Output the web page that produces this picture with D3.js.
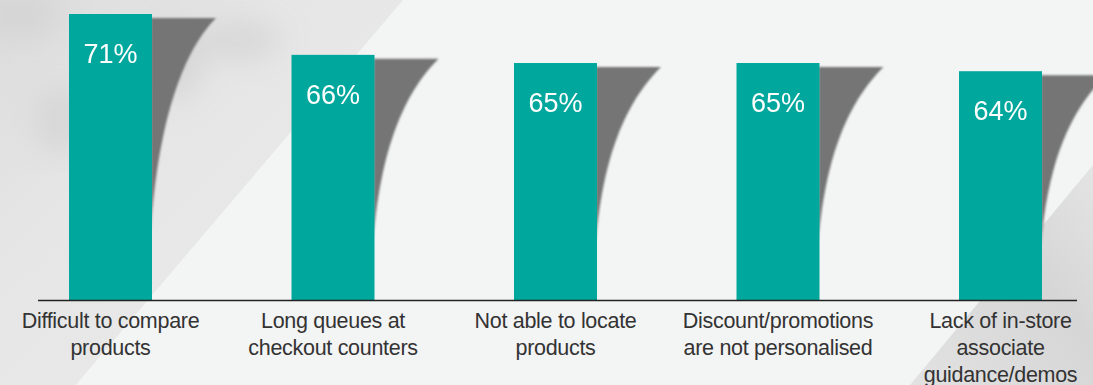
<!DOCTYPE html>
<html lang="en">
<head>
    <meta charset="UTF-8">
    <title>In-store pain points</title>
    <script src="https://cdn.jsdelivr.net/npm/d3@7"></script>
    <style>
        body{ margin:0; background:#f3f4f4; }
        .cat{
            font-family: "Liberation Sans", Arial, sans-serif;
            font-size: 21.5px;
            fill: #333;
            letter-spacing: -0.3px;
        }
        .val{
            font-family: "Liberation Sans", Arial, sans-serif;
            font-size: 27px;
            fill: #fff;
        }
    </style>
</head>
<body>
<svg width="1093" height="385"></svg>
<script>
    // data
    const categories = [
        ["Difficult to compare", "products"],
        ["Long queues at", "checkout counters"],
        ["Not able to locate", "products"],
        ["Discount/promotions", "are not personalised"],
        ["Lack of in-store", "associate", "guidance/demos"]
    ];
    const values = [71, 66, 65, 65, 64];

    const W = 1093, H = 385, base = 300;
    const svg = d3.select("svg");

    // background: light panel with two grey diagonal wedges
    const defs = svg.append("defs");
    const g1 = defs.append("linearGradient").attr("id", "leftBg")
        .attr("x1", 0).attr("y1", 0).attr("x2", 1).attr("y2", 1);
    g1.append("stop").attr("offset", "0%").attr("stop-color", "#dcdcdc");
    g1.append("stop").attr("offset", "35%").attr("stop-color", "#e6e6e6");
    g1.append("stop").attr("offset", "100%").attr("stop-color", "#ebebeb");
    const g2 = defs.append("linearGradient").attr("id", "rightBg")
        .attr("x1", 0).attr("y1", 1).attr("x2", 1).attr("y2", 0);
    g2.append("stop").attr("offset", "0%").attr("stop-color", "#e2e2e2");
    g2.append("stop").attr("offset", "60%").attr("stop-color", "#d6d6d6");
    g2.append("stop").attr("offset", "100%").attr("stop-color", "#e4e4e4");
    defs.append("filter").attr("id", "soft")
        .append("feGaussianBlur").attr("stdDeviation", 1.3);
    defs.append("filter").attr("id", "blurBig")
        .append("feGaussianBlur").attr("stdDeviation", 14);

    svg.append("rect").attr("width", W).attr("height", H).attr("fill", "#f3f4f4");
    svg.append("path")
        .attr("d", `M0,0 L403,0 L${403 - 0.85 * H},${H} L0,${H} Z`)
        .attr("fill", "url(#leftBg)");
    // a few soft darker patches like the blurred photo
    const patches = [[20, 15, 40, 25], [175, 60, 30, 40], [60, 120, 25, 35], [240, 40, 40, 20]];
    svg.append("g").attr("filter", "url(#blurBig)")
        .selectAll("ellipse").data(patches).join("ellipse")
        .attr("cx", d => d[0]).attr("cy", d => d[1])
        .attr("rx", d => d[2]).attr("ry", d => d[3])
        .attr("fill", "#d2d2d2").attr("opacity", 0.7);
    svg.append("path")
        .attr("d", `M${W},165 L${W},${H} L910,${H} Z`)
        .attr("fill", "url(#rightBg)");

    // scales
    const x = d3.scaleBand()
        .domain(d3.range(values.length))
        .range([69, 1042])
        .paddingInner(0.627)
        .paddingOuter(0);

    const y = d3.scaleLinear()
        .domain([36, 71])
        .range([base, 14]);

    // curled shadows behind each bar
    svg.append("g").attr("filter", "url(#soft)")
        .selectAll("path").data(values).join("path")
        .attr("fill", "#747474")
        .attr("d", (d, i) => {
            const x1 = x(i) + x.bandwidth() - 1;
            const t = y(d) + 4;
            const e = t + (base - t) * 0.75;
            return `M${x1},${t} L${x1 + 65},${t} C${x1 + 35},${t + 30} ${x1 + 8},${t + (e - t) * 0.45} ${x1},${e} Z`;
        });

    // bars
    svg.append("g").selectAll("rect").data(values).join("rect")
        .attr("x", (d, i) => x(i))
        .attr("y", d => y(d))
        .attr("width", x.bandwidth())
        .attr("height", d => base - y(d))
        .attr("fill", "#00a79d");

    // value labels
    svg.append("g").selectAll("text").data(values).join("text")
        .attr("class", "val")
        .attr("x", (d, i) => x(i) + x.bandwidth() / 2)
        .attr("y", d => y(d) + 49)
        .attr("text-anchor", "middle")
        .text(d => d + "%");

    // baseline
    svg.append("line")
        .attr("x1", 38).attr("x2", 1077)
        .attr("y1", base + 0.5).attr("y2", base + 0.5)
        .attr("stroke", "#222").attr("stroke-width", 1.5);

    // category labels
    svg.append("g").selectAll("text").data(categories).join("text")
        .attr("class", "cat")
        .attr("text-anchor", "middle")
        .attr("transform", (d, i) => `translate(${x(i) + x.bandwidth() / 2},${base + 28})`)
        .selectAll("tspan").data(d => d).join("tspan")
        .attr("x", 0)
        .attr("dy", (d, j) => j === 0 ? 0 : 27)
        .text(d => d);
</script>
</body>
</html>
